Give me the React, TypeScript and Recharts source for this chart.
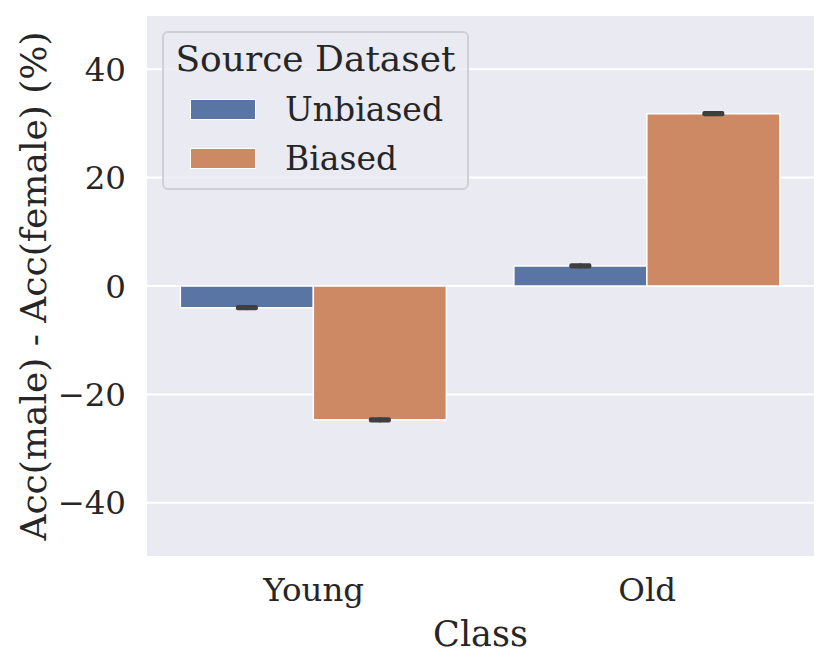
import React from 'react';
import { BarChart, Bar, XAxis, YAxis, CartesianGrid, Legend, ErrorBar, Label } from 'recharts';

const classes = ['Young', 'Old'];
const seriesNames = ['Unbiased', 'Biased'];
const unbiased = [-4.0, 3.7];
const biased = [-24.7, 31.8];
const unbiasedErr = [0.12, 0.12];
const biasedErr = [0.12, 0.12];
const yTicks = [-40, -20, 0, 20, 40];

const FONT = "'DejaVu Serif', serif";
const INK = '#262626';
const BLUE = '#5975a4';
const ORANGE = '#cc8963';

const data = classes.map((c, i) => ({
  name: c,
  Unbiased: unbiased[i],
  Biased: biased[i],
  uErr: unbiasedErr[i],
  bErr: biasedErr[i],
}));

const fmt = (v: number) => (v < 0 ? '\u2212' + Math.abs(v) : String(v));

// legend drawn like the seaborn box; keep series order (recharts sorts by name)
const LegendBox = ({ payload }: any) => {
  const items = [...(payload || [])].sort((a: any, b: any) => seriesNames.indexOf(a.value) - seriesNames.indexOf(b.value));
  return (
    <div style={{
      position: 'relative', width: 303, height: 155, border: '2px solid #cfcfd4', borderRadius: 6,
      background: 'rgba(234,234,242,0.8)', fontFamily: FONT, color: INK,
    }}>
      <div style={{ position: 'absolute', left: 0, width: 303, top: 8, fontSize: 36, lineHeight: '36px', textAlign: 'center', whiteSpace: 'nowrap' }}>
        Source Dataset
      </div>
      {items.map((p: any, i: number) => (
        <div key={p.value}>
          <div style={{ position: 'absolute', left: 26, top: 66 + i * 49, width: 64, height: 19, background: p.color, border: '1.5px solid #fff' }} />
          <div style={{ position: 'absolute', left: 121, top: 60 + i * 49, fontSize: 33, lineHeight: '33px' }}>{p.value}</div>
        </div>
      ))}
    </div>
  );
};

export default function App() {
  return (
    <div style={{ position: 'absolute', left: 0, top: 0, width: 830, height: 668, background: '#fff' }}>
      <BarChart width={830} height={668} data={data} margin={{ top: 15, right: 16, bottom: 51, left: 47 }}
        barCategoryGap="10%" barGap={0}>
        <CartesianGrid vertical={false} stroke="#fff" strokeWidth={2} fill="#eaeaf2" fillOpacity={1} />
        <XAxis dataKey="name" height={60} axisLine={false} tickLine={false} tickSize={0} tickMargin={21}
          tick={{ fontFamily: FONT, fontSize: 32.5, fill: INK }}>
          <Label content={() => (
            <text x={480.5} y={646} textAnchor="middle" fontFamily={FONT} fontSize={35} fill={INK}>Class</text>
          )} />
        </XAxis>
        <YAxis width={100} domain={[-50, 50]} ticks={yTicks} tickFormatter={fmt} axisLine={false} tickLine={false}
          tickSize={0} tickMargin={21} tick={{ fontFamily: FONT, fontSize: 32.5, fill: INK }}>
          <Label content={() => (
            <text x={46} y={286} transform="rotate(-90 46 286)" textAnchor="middle" fontFamily={FONT} fontSize={36} fill={INK}>
              Acc(male) - Acc(female) (%)
            </text>
          )} />
        </YAxis>
        <Legend layout="horizontal" verticalAlign="middle" align="center" content={<LegendBox />}
          wrapperStyle={{ left: 162, top: 31, width: 307, height: 159 }} />
        <Bar dataKey="Unbiased" fill={BLUE} stroke="#fff" strokeWidth={1.5} isAnimationActive={false}>
          <ErrorBar dataKey="uErr" width={9} stroke="#3f3f3f" strokeWidth={4} strokeLinecap="round" />
        </Bar>
        <Bar dataKey="Biased" fill={ORANGE} stroke="#fff" strokeWidth={1.5} isAnimationActive={false}>
          <ErrorBar dataKey="bErr" width={9} stroke="#3f3f3f" strokeWidth={4} strokeLinecap="round" />
        </Bar>
      </BarChart>
    </div>
  );
}
